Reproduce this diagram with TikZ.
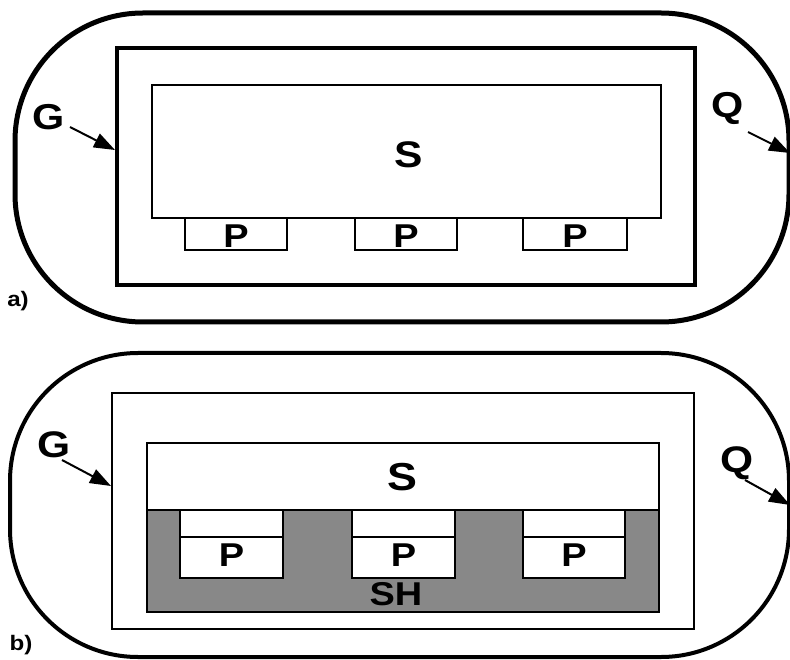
\documentclass[tikz,border=0pt]{standalone}
\usepackage{fontspec}
\usepackage{graphicx}
\setmainfont{Liberation Sans}
\usetikzlibrary{arrows.meta}
\definecolor{shgray}{RGB}{136,136,136}
\newcommand{\stretchtxt}[1]{\scalebox{1.15}[1]{#1}}
\tikzset{
  box/.style={draw, inner sep=0pt, outer sep=0pt, rectangle},
  outerbox/.style={box, rounded corners=128pt},
  lbl/.style={inner sep=0pt, font=\bfseries\fontsize{33}{33}\selectfont},
  big/.style={inner sep=0pt, font=\bfseries\fontsize{36}{36}\selectfont},
  small/.style={inner sep=0pt, font=\bfseries\fontsize{21}{21}\selectfont},
  pointer/.style={line width=2pt, -{Triangle[length=21pt,width=15pt]}}
}
\begin{document}
\begin{tikzpicture}[x=1pt, y=-1pt]
\useasboundingbox (0,0) rectangle (790,660);

% ---------- a) ----------
\node[outerbox, line width=5pt, minimum width=774pt, minimum height=309pt] (Oa) at (402,167.5) {};
\node[box, line width=4pt, minimum width=578pt, minimum height=237pt] (Ra) at (406,166.5) {};
\node[box, line width=1.8pt, minimum width=509pt, minimum height=133pt] (Sa) at (406.5,151.5) {};
\node[lbl, font=\bfseries\fontsize{37}{37}\selectfont] (Sat) at (409,155) {\stretchtxt{S}};
\foreach \i/\cx/\w in {1/236/102, 2/406/102, 3/575/104}{
  \node[box, line width=2.2pt, minimum width=\w pt, minimum height=32pt] (Pa\i) at (\cx,234) {};
  \node[lbl] (Pat\i) at (\cx,236.5) {\stretchtxt{P}};
}
\node[big, anchor=base] (Ga) at (49,130) {\stretchtxt{G}};
\coordinate (ga) at (115,150);
\draw[pointer] (70,127) -- (ga);
\node[big, anchor=base] (Qa) at (728,118) {\stretchtxt{Q}};
\coordinate (qa) at (790,153);
\draw[pointer] (748,132) -- (qa);
\node[small, anchor=base] (la) at (18,307) {\stretchtxt{a)}};

% ---------- b) ----------
\node[outerbox, line width=4pt, minimum width=779pt, minimum height=304pt] (Ob) at (399.5,505) {};
\node[box, line width=2.8pt, minimum width=582pt, minimum height=236pt] (Rb) at (403,511) {};
\node[box, line width=1.3pt, fill=shgray, minimum width=512pt, minimum height=102pt] (SHb) at (403,561) {};
\node[box, line width=1.3pt, fill=white, minimum width=512pt, minimum height=67pt] (Sb) at (403,476.5) {};
\node[lbl, font=\bfseries\fontsize{39}{39}\selectfont] (Sbt) at (402,477) {\stretchtxt{S}};
\foreach \i/\cx/\w in {1/231.5/103, 2/403.5/103, 3/574/102}{
  \node[box, line width=1.6pt, fill=white, minimum width=\w pt, minimum height=27pt] (Cb\i) at (\cx,523.5) {};
  \node[box, line width=1.6pt, fill=white, minimum width=\w pt, minimum height=41pt] (Pb\i) at (\cx,557.5) {};
  \node[lbl] (Pbt\i) at (\cx,555) {\stretchtxt{P}};
}
\node[lbl] (SHt) at (396,594) {\stretchtxt{SH}};
\node[big, anchor=base, font=\bfseries\fontsize{37}{37}\selectfont] (Gb) at (54,457) {\stretchtxt{G}};
\coordinate (gb) at (111,486);
\draw[pointer] (62,460) -- (gb);
\node[big, anchor=base, font=\bfseries\fontsize{37}{37}\selectfont] (Qb) at (737,472) {\stretchtxt{Q}};
\coordinate (qb) at (790,505);
\draw[pointer] (745,480) -- (qb);
\node[small, anchor=base] (lb) at (21,650) {\stretchtxt{b)}};
\end{tikzpicture}
\end{document}
